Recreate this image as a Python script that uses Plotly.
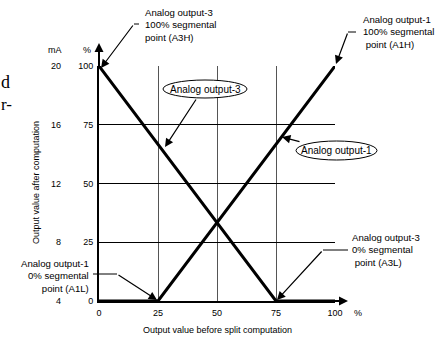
import plotly.graph_objects as go

# split computation values (% in -> % out)
split_in = [0, 25, 50, 75, 100]
out1_x = [0, 25, 100]
out1_y = [0, 0, 100]
out3_x = [0, 75, 100]
out3_y = [100, 0, 0]
pct_ticks = [0, 25, 50, 75, 100]
ma_labels = ["4", "8", "12", "16", "20"]

W, H = 436, 343
L, R, T, B = 99, 335, 66, 301  # plot area in pixels

FONT = "Liberation Sans, Arial, sans-serif"
SERIF = "Liberation Serif, Times New Roman, serif"
FS = 9.6      # callout text
FS_TICK = 9   # ticks and axis titles


def px(x):
    return (x - L) / (R - L)


def py(y):
    return (B - y) / (B - T)


fig = go.Figure()
fig.add_trace(go.Scatter(x=out1_x, y=out1_y, mode="lines", name="Analog output-1",
                         line=dict(color="black", width=3), cliponaxis=False))
fig.add_trace(go.Scatter(x=out3_x, y=out3_y, mode="lines", name="Analog output-3",
                         line=dict(color="black", width=3), cliponaxis=False))

ann = []
shapes = []


def text(x, y, s, xanchor="center", align="center", size=FS, family=FONT, angle=0):
    ann.append(dict(xref="paper", yref="paper", x=px(x), y=py(y), text=s, showarrow=False,
                    xanchor=xanchor, yanchor="middle", align=align, textangle=angle,
                    font=dict(family=family, size=size, color="black")))


def arrow(tail, tip, width=1.2, head=2, size=1.4):
    ann.append(dict(xref="paper", yref="paper", x=px(tip[0]), y=py(tip[1]), text="",
                    showarrow=True, ax=tail[0] - tip[0], ay=tail[1] - tip[1],
                    arrowhead=head, arrowsize=size, arrowwidth=width, arrowcolor="black",
                    standoff=0))


def seg(a, b):
    shapes.append(dict(type="line", xref="paper", yref="paper", x0=px(a[0]), y0=py(a[1]),
                       x1=px(b[0]), y1=py(b[1]), line=dict(color="black", width=1)))


def ellipse(x0, y0, x1, y1, label):
    shapes.append(dict(type="circle", xref="paper", yref="paper", x0=px(x0), y0=py(y0),
                       x1=px(x1), y1=py(y1), line=dict(color="black", width=1),
                       fillcolor="white", layer="above"))
    text((x0 + x1) / 2, (y0 + y1) / 2, label, size=10)


# axis arrows
arrow((L, T + 2), (L, 43), width=2, size=0.9)
arrow((R - 2, B), (348, B), width=2, size=0.9)

# mA column + headers (paper y = share of the 0-100 % range)
for v, lab in zip(pct_ticks, ma_labels):
    ann.append(dict(xref="paper", yref="paper", x=px(63), y=v / 100, text=lab,
                    showarrow=False, xanchor="right", yanchor="middle",
                    font=dict(family=FONT, size=FS_TICK, color="black")))
text(55, 50, "mA", size=FS_TICK)
text(87, 50, "%", size=FS_TICK)
text(358, 313, "%", size=FS_TICK)

# axis titles
text(217, 330, "Output value before split computation", size=FS_TICK)
text(36, 183, "Output value after computation", size=FS_TICK, angle=-90)

# callouts
text(143, 25, "Analog output-3<br>100% segmental<br>point (A3H)", xanchor="left", align="left")
seg((139, 24), (134, 24))
arrow((134, 24), (101, 68))

text(361, 32, "Analog output-1<br>100% segmental<br> point (A1H)", xanchor="left", align="left")
seg((356, 32), (348, 32))
arrow((348, 32), (336, 64))

text(350, 250, "Analog output-3<br>0% segmental<br> point (A3L)", xanchor="left", align="left")
seg((348, 250), (323, 250))
arrow((323, 250), (277, 300))

text(91, 276, "Analog output-1<br>0% segmental<br>point (A1L)", xanchor="right", align="right")
seg((93, 274), (117, 274))
arrow((117, 274), (157, 300))

ellipse(163, 80, 247, 98, "Analog output-3")
arrow((197, 98), (165, 147))
ellipse(296, 141, 377, 160, "Analog output-1")
arrow((301, 142), (282, 137))

# cut-off page text at left edge
text(-1, 82, "d", xanchor="left", size=18, family=SERIF)
text(-1, 104, "r-", xanchor="left", size=17, family=SERIF)

fig.update_layout(
    width=W, height=H,
    margin=dict(l=L, r=W - R, t=T, b=H - B),
    paper_bgcolor="white", plot_bgcolor="white",
    showlegend=False,
    font=dict(family=FONT, size=FS, color="black"),
    xaxis=dict(range=[0, 100], tickvals=split_in, ticktext=[str(v) for v in split_in],
               showgrid=True, gridcolor="#555", gridwidth=1.2, zeroline=False,
               showline=True, linecolor="black", linewidth=2, ticks="", ticklabelstandoff=2,
               tickfont=dict(family=FONT, size=FS_TICK, color="black"), fixedrange=True),
    yaxis=dict(range=[0, 100], tickvals=pct_ticks, ticktext=[str(v) for v in pct_ticks],
               showgrid=True, gridcolor="black", gridwidth=1, zeroline=False,
               showline=True, linecolor="black", linewidth=2, ticks="", ticklabelstandoff=2,
               tickfont=dict(family=FONT, size=FS_TICK, color="black"), fixedrange=True),
    annotations=ann,
    shapes=shapes,
)

# the page's default body margin shifts the figure; remove it
fig.write_html("out.html", config={"displayModeBar": False},
               post_script="document.body.style.margin='0';document.body.style.overflow='hidden';")
